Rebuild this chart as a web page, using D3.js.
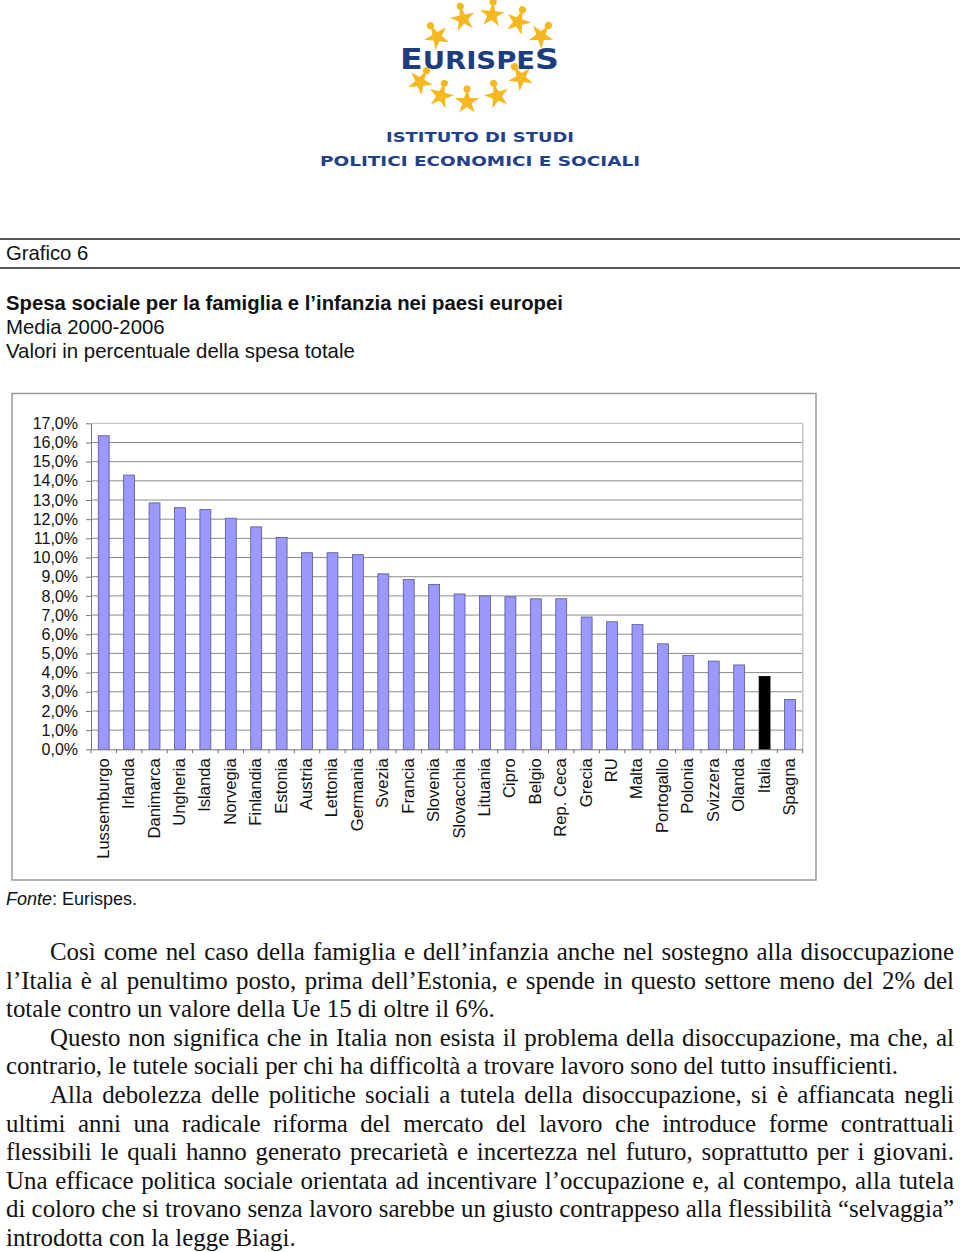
<!DOCTYPE html>
<html>
<head>
<meta charset="utf-8">
<script src="https://cdn.jsdelivr.net/npm/d3@7"></script>
<style>
  body { margin: 0; background: #fff; }
  svg { display: block; }
  .sans { font-family: "Liberation Sans", Arial, sans-serif; }
  .serif { font-family: "Liberation Serif", "Times New Roman", serif; }
</style>
</head>
<body>
<svg id="chart" width="960" height="1252"></svg>
<script>
// ---------- DATA ----------
const categories = ["Lussemburgo","Irlanda","Danimarca","Ungheria","Islanda","Norvegia","Finlandia","Estonia","Austria","Lettonia","Germania","Svezia","Francia","Slovenia","Slovacchia","Lituania","Cipro","Belgio","Rep. Ceca","Grecia","RU","Malta","Portogallo","Polonia","Svizzera","Olanda","Italia","Spagna"];
const values = [16.35,14.3,12.85,12.6,12.5,12.05,11.6,11.05,10.25,10.25,10.15,9.15,8.85,8.6,8.1,8.0,7.95,7.85,7.85,6.9,6.65,6.5,5.5,4.9,4.6,4.4,3.8,2.6];
const highlighted = ["Italia"];
const yTickValues = [0,1,2,3,4,5,6,7,8,9,10,11,12,13,14,15,16,17];

const headerLabel = "Grafico 6";
const titleText = "Spesa sociale per la famiglia e l’infanzia nei paesi europei";
const subtitleLines = ["Media 2000-2006", "Valori in percentuale della spesa totale"];
const sourceLabel = "Fonte";
const sourceText = ": Eurispes.";

const paragraphLines = [
  "Così come nel caso della famiglia e dell’infanzia anche nel sostegno alla disoccupazione",
  "l’Italia è al penultimo posto, prima dell’Estonia, e spende in questo settore meno del 2% del",
  "totale contro un valore della Ue 15 di oltre il 6%.",
  "Questo non significa che in Italia non esista il problema della disoccupazione, ma che, al",
  "contrario, le tutele sociali per chi ha difficoltà a trovare lavoro sono del tutto insufficienti.",
  "Alla debolezza delle politiche sociali a tutela della disoccupazione, si è affiancata negli",
  "ultimi anni una radicale riforma del mercato del lavoro che introduce forme contrattuali",
  "flessibili le quali hanno generato precarietà e incertezza nel futuro, soprattutto per i giovani.",
  "Una efficace politica sociale orientata ad incentivare l’occupazione e, al contempo, alla tutela",
  "di coloro che si trovano senza lavoro sarebbe un giusto contrappeso alla flessibilità “selvaggia”",
  "introdotta con la legge Biagi."
];
const paragraphIndent = [true,false,false,true,false,true,false,false,false,false,false];
const paragraphJustify = [true,true,false,true,false,true,true,true,true,true,false];

// ---------- LAYOUT ----------
const svg = d3.select("#chart");
svg.append("rect").attr("width",960).attr("height",1252).attr("fill","#fff");

// Logo
const logo = svg.append("g");
const figPos = [[437,37],[463,19],[492,15],[518,22],[541,36],[420,82],[441,96],[467,102],[497,96],[521,78]];
const figRot = [-30,-12,5,20,35,30,15,0,-15,-30];
figPos.forEach((p,i)=>{
  const g = logo.append("g").attr("transform",`translate(${p[0]},${p[1]}) rotate(${figRot[i]})`);
  g.append("path").attr("d", d3.symbol(d3.symbolStar).size(190)()).attr("fill","#f5b820");
  g.append("circle").attr("cx",0).attr("cy",-13).attr("r",3.6).attr("fill","#f5b820");
});
const eur = logo.append("text").attr("x",400).attr("y",69)
  .attr("font-family","DejaVu Sans, sans-serif").attr("font-weight","bold")
  .attr("fill","#1c3d7e").attr("textLength",159).attr("lengthAdjust","spacingAndGlyphs");
eur.append("tspan").attr("font-size",29).text("E");
eur.append("tspan").attr("font-size",24).text("URISPE");
eur.append("tspan").attr("font-size",29).text("S");
logo.append("text").attr("x",386).attr("y",142).attr("font-family","DejaVu Sans, sans-serif")
  .attr("font-weight","bold").attr("font-size",14).attr("fill","#23418a")
  .attr("textLength",188).attr("lengthAdjust","spacingAndGlyphs").text("ISTITUTO DI STUDI");
logo.append("text").attr("x",320).attr("y",166).attr("font-family","DejaVu Sans, sans-serif")
  .attr("font-weight","bold").attr("font-size",14).attr("fill","#23418a")
  .attr("textLength",320).attr("lengthAdjust","spacingAndGlyphs").text("POLITICI ECONOMICI E SOCIALI");

// Header rules and titles
svg.append("line").attr("x1",0).attr("x2",960).attr("y1",239).attr("y2",239).attr("stroke","#555").attr("stroke-width",2);
svg.append("line").attr("x1",0).attr("x2",960).attr("y1",268).attr("y2",268).attr("stroke","#555").attr("stroke-width",2);
svg.append("text").attr("class","sans").attr("x",6).attr("y",260).attr("font-size",20.3).attr("fill","#111").text(headerLabel);
svg.append("text").attr("class","sans").attr("x",6).attr("y",310).attr("font-size",20.3).attr("font-weight","bold").attr("fill","#111").text(titleText);
subtitleLines.forEach((t,i)=>{
  svg.append("text").attr("class","sans").attr("x",6).attr("y",334+i*24).attr("font-size",20.4).attr("fill","#111").text(t);
});

// Chart box
svg.append("rect").attr("x",12).attr("y",393.5).attr("width",804).attr("height",486.5)
  .attr("fill","none").attr("stroke","#9a9a9a").attr("stroke-width",1.5);

const x0 = 91, x1 = 802.7, yTop = 423.3, yBase = 749.3;
const x = d3.scaleBand().domain(categories).range([x0,x1]).padding(0);
const y = d3.scaleLinear().domain([0,17]).range([yBase,yTop]);

// gridlines
svg.append("g").selectAll("line").data(yTickValues.filter(v=>v>0)).join("line")
  .attr("x1",x0).attr("x2",x1).attr("y1",d=>y(d)).attr("y2",d=>y(d))
  .attr("stroke",d=>d===17?"#b5b5b5":"#8c8c8c").attr("stroke-width",1);
// right border of plot
svg.append("line").attr("x1",x1).attr("x2",x1).attr("y1",yTop).attr("y2",yBase).attr("stroke","#c4c4c4").attr("stroke-width",1.5);

// bars
const bw = x.bandwidth()*0.43;
svg.append("g").selectAll("rect").data(categories).join("rect")
  .attr("x",d=>x(d)+x.bandwidth()/2-bw/2)
  .attr("width",bw)
  .attr("y",(d,i)=>y(values[i]))
  .attr("height",(d,i)=>yBase-y(values[i]))
  .attr("fill",d=>highlighted.includes(d)?"#000":"#9999ff")
  .attr("stroke",d=>highlighted.includes(d)?"#000":"#56568a")
  .attr("stroke-width",0.8);

// y axis
const yAxis = svg.append("g").attr("transform",`translate(${x0},0)`)
  .call(d3.axisLeft(y).tickValues(yTickValues).tickFormat(d=>d3.format(".1f")(d).replace(".",",")+"%").tickSize(5).tickPadding(8).tickSizeOuter(0));
yAxis.select(".domain").attr("stroke","#777");
yAxis.selectAll(".tick line").attr("stroke","#777");
yAxis.selectAll("text").attr("font-family","Liberation Sans, Arial, sans-serif").attr("font-size",16).attr("fill","#111");

// x axis
const xAxis = svg.append("g").attr("transform",`translate(0,${yBase})`)
  .call(d3.axisBottom(x).tickSize(0).tickPadding(0).tickSizeOuter(0));
xAxis.select(".domain").attr("stroke","#777");
xAxis.selectAll("text")
  .attr("font-family","Liberation Sans, Arial, sans-serif").attr("font-size",16.6).attr("fill","#111")
  .attr("text-anchor","end").attr("dy",null).attr("y",0)
  .attr("transform","translate(5,9) rotate(-90)");
// boundary ticks
const bounds = categories.map(c=>x(c)).concat([x1]);
svg.append("g").selectAll("line").data(bounds).join("line")
  .attr("x1",d=>d).attr("x2",d=>d).attr("y1",yBase).attr("y2",yBase+4)
  .attr("stroke","#777");

// Source
const src = svg.append("text").attr("class","sans").attr("x",6).attr("y",905).attr("font-size",18).attr("fill","#111");
src.append("tspan").attr("font-style","italic").text(sourceLabel);
src.append("tspan").text(sourceText);

// Paragraph
const pg = svg.append("g").attr("class","serif");
paragraphLines.forEach((t,i)=>{
  const xs = paragraphIndent[i] ? 50 : 6;
  const txt = pg.append("text").attr("x",xs).attr("y",960+i*28.6).attr("font-size",24.9).attr("fill","#111").text(t);
  if (paragraphJustify[i]) {
    const w = txt.node().getComputedTextLength();
    const spaces = (t.match(/ /g)||[]).length;
    const extra = (954 - xs - w)/spaces;
    txt.attr("word-spacing", extra);
  }
});
</script>
</body>
</html>
